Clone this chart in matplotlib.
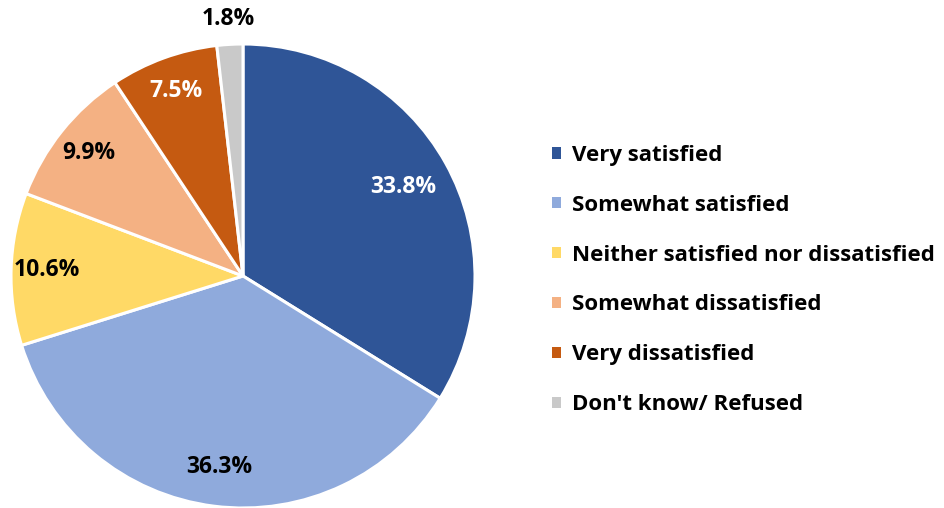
import matplotlib
matplotlib.use("Agg")
import matplotlib.pyplot as plt
import matplotlib.patches as mpatches
import numpy as np

categories = ["Very satisfied", "Somewhat satisfied", "Neither satisfied nor dissatisfied",
              "Somewhat dissatisfied", "Very dissatisfied", "Don't know/ Refused"]
values = [33.8, 36.3, 10.6, 9.9, 7.5, 1.8]
colors = ["#2F5597", "#8FAADC", "#FFD966", "#F4B183", "#C55A11", "#C9C9C9"]
label_colors = ["white", "black", "black", "black", "white", "black"]

plt.rcParams['font.family'] = ['Open Sans', 'DejaVu Sans']

fig = plt.figure(figsize=(9.44, 5.08), dpi=100)
W, H = 944, 508
cx, cy, r = 243, 276, 232
ax = fig.add_axes([(cx - r) / W, (H - cy - r) / H, 2 * r / W, 2 * r / H])
wedges, _ = ax.pie(values, colors=colors, startangle=90, counterclock=False,
                   wedgeprops=dict(edgecolor="white", linewidth=2.2))
ax.set_xlim(-1, 1)
ax.set_ylim(-1, 1)
ax.set_aspect("equal")

dists = [0.79, 0.83, 0.845, 0.85, 0.85, 1.11]
for w, v, d, c in zip(wedges, values, dists, label_colors):
    ang = np.deg2rad((w.theta1 + w.theta2) / 2)
    ax.text(d * np.cos(ang), d * np.sin(ang), f"{v:.1f}%", ha="center", va="center",
            fontsize=16.5, fontweight="bold", color=c, clip_on=False)

handles = [mpatches.Patch(facecolor=c, edgecolor="none") for c in colors]
fig.legend(handles, categories, loc="center left", bbox_to_anchor=(532 / W, 1 - 280 / H),
           frameon=False, prop=dict(size=16, weight="bold"),
           handlelength=0.42, handleheight=0.42, handletextpad=0.5, labelspacing=1.3)

fig.savefig("out.png", dpi=100)
